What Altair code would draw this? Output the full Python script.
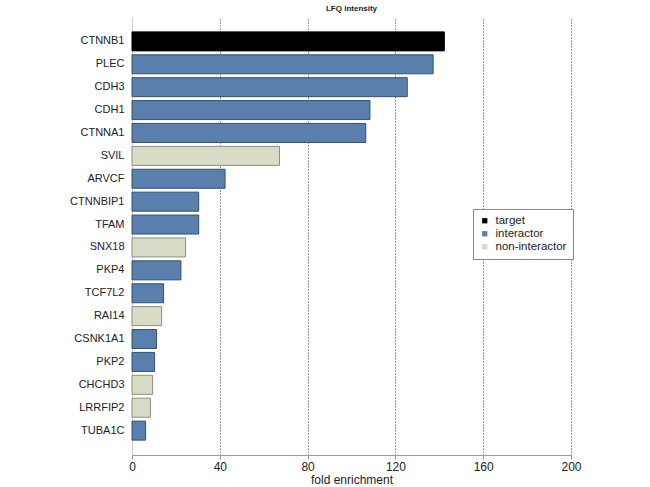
import altair as alt
import pandas as pd

genes = ["CTNNB1", "PLEC", "CDH3", "CDH1", "CTNNA1", "SVIL", "ARVCF", "CTNNBIP1",
         "TFAM", "SNX18", "PKP4", "TCF7L2", "RAI14", "CSNK1A1", "PKP2", "CHCHD3",
         "LRRFIP2", "TUBA1C"]
fold = [142.3, 137.2, 125.4, 108.4, 106.5, 67.2, 42.4, 30.4,
        30.4, 24.4, 22.3, 14.4, 13.5, 11.2, 10.3, 9.4, 8.4, 6.2]
kind = ["target", "interactor", "interactor", "interactor", "interactor", "non-interactor",
        "interactor", "interactor", "interactor", "non-interactor", "interactor", "interactor",
        "non-interactor", "interactor", "interactor", "non-interactor", "non-interactor",
        "interactor"]

categories = ["target", "interactor", "non-interactor"]
fills = ["#000000", "#5b7fad", "#d8dbc5"]
strokes = ["#000000", "#34506f", "#8c8f7c"]

df = pd.DataFrame({"gene": genes, "fold": fold, "kind": kind})

font = "Liberation Sans"

chart = alt.Chart(df).mark_bar(strokeWidth=1).encode(
    x=alt.X("fold:Q", scale=alt.Scale(domain=[0, 200], nice=False),
            axis=alt.Axis(values=[0, 40, 80, 120, 160, 200], title="fold enrichment",
                          grid=True, gridDash=[1, 2], gridColor="#333333", gridOpacity=1,
                          domainColor="#999999", tickColor="#999999", tickSize=4,
                          labelFlush=False,
                          labelFontSize=12, labelColor="#222222", labelPadding=2,
                          titleFontSize=12, titleFontWeight="normal", titleColor="#222222",
                          titlePadding=2, labelFont=font, titleFont=font)),
    y=alt.Y("gene:N", sort=genes,
            scale=alt.Scale(paddingInner=0.17, paddingOuter=0.65),
            axis=alt.Axis(title=None, ticks=False, domainColor="#cccccc", labelFontSize=11,
                          labelColor="#222222", labelPadding=8, labelFont=font)),
    fill=alt.Fill("kind:N", scale=alt.Scale(domain=categories, range=fills),
                  legend=alt.Legend(title=None, orient="none", legendX=341, legendY=192,
                                    symbolType="square", symbolSize=28, symbolStrokeWidth=0,
                                    labelFontSize=11.5, labelFont=font, labelColor="#222222",
                                    strokeColor="#888888", fillColor="white", padding=6,
                                    labelOffset=5, rowPadding=0, labelLimit=200)),
    stroke=alt.Stroke("kind:N", scale=alt.Scale(domain=categories, range=strokes), legend=None),
).properties(
    width=439, height=438,
    title=alt.TitleParams("LFQ intensity", fontSize=8, fontWeight="bold", font=font,
                          anchor="middle", offset=4, color="#222222"),
    padding={"left": 132, "top": 17, "right": 79, "bottom": 32},
    autosize=alt.AutoSizeParams(type="none"),
).configure_view(stroke=None)

chart.save("out.html", embed_options={"renderer": "svg", "actions": False})
